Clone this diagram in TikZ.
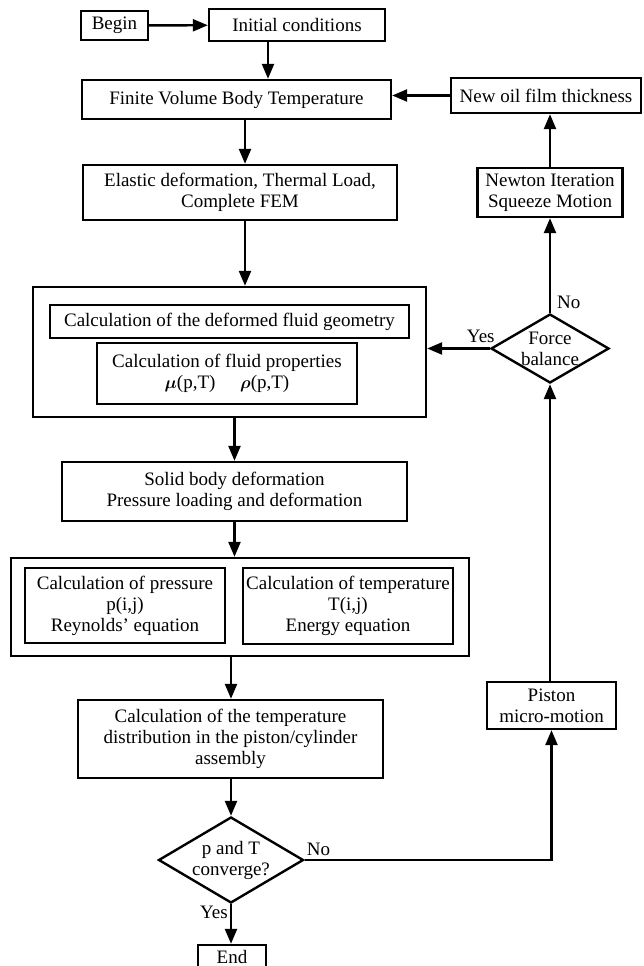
\documentclass[tikz,border=0pt]{standalone}
\usepackage{amsmath,amssymb}
\usepackage{fontspec}
\setmainfont{Liberation Serif}
\usepackage{tikz}
\usetikzlibrary{shapes.geometric,arrows.meta,positioning}

\begin{document}
\begin{tikzpicture}[
    x=1pt, y=-1pt,
    box/.style={rectangle, draw, line width=2.4pt, inner sep=0pt, align=center, font=\fontsize{19}{21}\selectfont},
    decision/.style={diamond, draw, line width=2.4pt, inner sep=0pt, align=center, font=\fontsize{19}{21}\selectfont},
    lbl/.style={inner sep=1pt, font=\fontsize{19}{21}\selectfont},
    arrow/.style={-{Triangle[length=15pt,width=12pt]}, line width=2.4pt}
]
\clip (0,0) rectangle (643,966);

% Start
\node[box, minimum width=67pt, minimum height=29pt] (begin) at (114.5,25.5) {Begin};
\node[box, minimum width=176pt, minimum height=32pt] (init) at (297,25) {Initial conditions};

% Temperature and deformation
\node[box, minimum width=309pt, minimum height=39pt] (fvbt) at (236.5,99.5) {Finite Volume Body Temperature};
\node[box, minimum width=314pt, minimum height=55pt] (elastic) at (240,192.5) {Elastic deformation, Thermal Load,\\Complete FEM};

% Fluid geometry and properties
\node[box, minimum width=393pt, minimum height=130pt] (outer1) at (229.5,352) {};
\node[box, minimum width=359pt, minimum height=33pt] (geom) at (229.5,321.5) {Calculation of the deformed fluid geometry};
\node[box, minimum width=260pt, minimum height=61pt] (fluid) at (227,373.5) {Calculation of fluid properties\\$\boldsymbol{\mu}$(p,T)\hspace{1.3em}$\boldsymbol{\rho}$(p,T)};

% Solid body
\node[box, minimum width=345pt, minimum height=59pt] (solid) at (234.5,491.5) {Solid body deformation\\Pressure loading and deformation};

% Pressure and temperature
\node[box, minimum width=458pt, minimum height=98pt] (outer2) at (240,607) {};
\node[box, minimum width=200pt, minimum height=75pt] (pres) at (125,605.5) {Calculation of pressure\\p(i,j)\\Reynolds' equation};
\node[box, minimum width=210pt, minimum height=76pt] (temp) at (348,606) {Calculation of temperature\\T(i,j)\\Energy equation};

\node[box, minimum width=305pt, minimum height=78pt] (tdist) at (230.5,739) {Calculation of the temperature\\distribution in the piston/cylinder\\assembly};

% Convergence check
\node[decision, minimum width=145pt, minimum height=86pt, label={[lbl, align=center]center:p and T\\converge?}] (conv) at (231,860) {};
\node[box, minimum width=68pt, minimum height=24pt] (endnode) at (232,957) {End};

% Right loop
\node[box, minimum width=129pt, minimum height=47pt] (piston) at (551.5,705.5) {Piston\\micro-motion};
\node[decision, minimum width=118pt, minimum height=69pt, label={[lbl, align=center]center:Force\\balance}] (force) at (550,348.5) {};
\node[box, minimum width=145pt, minimum height=49pt] (newton) at (550,192.5) {Newton Iteration\\Squeeze Motion};
\node[box, minimum width=190pt, minimum height=35pt] (oil) at (546,95.5) {New oil film thickness};

% Arrows
\draw[arrow] (begin) -- (init);
\draw[arrow] ([xshift=-29pt]init.south) -- ([xshift=-29pt]init.south |- fvbt.north);
\draw[arrow] ([xshift=8.5pt]fvbt.south) -- ([xshift=8.5pt]fvbt.south |- elastic.north);
\draw[arrow] ([xshift=5pt]elastic.south) -- ([xshift=5pt]elastic.south |- outer1.north);
\draw[arrow] (outer1.south -| solid.north) -- (solid.north);
\draw[arrow] (solid.south) -- (solid.south |- outer2.north);
\draw[arrow] (outer2.south -| conv.north) -- (conv.north |- tdist.north);
\draw[arrow] (tdist.south -| conv.north) -- (conv.north);
\draw[arrow] (conv.south) -- (conv.south |- endnode.north);
\draw[arrow] (conv.east) -| (piston.south);
\draw[arrow] (force.south |- piston.north) -- (force.south);
\draw[arrow] (force.north) -- (newton.south);
\draw[arrow] (newton.north) -- (newton.north |- oil.south);
\draw[arrow] (oil.west) -- (oil.west -| fvbt.east);
\draw[arrow] (force.west) -- (force.west -| outer1.east);

% Branch labels
\node[lbl, anchor=south west] (forceno) at ([xshift=6pt,yshift=3pt]force.north) {No};
\node[lbl, anchor=south] (forceyes) at ([xshift=-9pt,yshift=5pt]force.west) {Yes};
\node[lbl, anchor=south west] (convno) at ([xshift=1pt,yshift=3pt]conv.east) {No};
\node[lbl, anchor=north east] (convyes) at ([xshift=-2pt,yshift=-1pt]conv.south) {Yes};

\end{tikzpicture}
\end{document}
